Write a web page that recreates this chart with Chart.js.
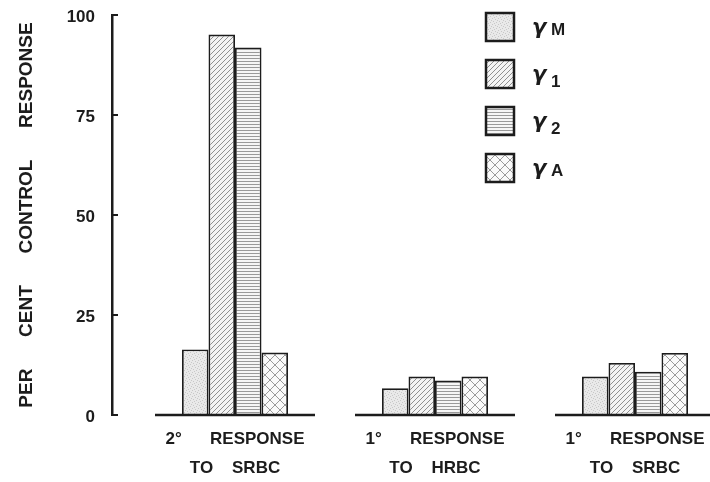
<!DOCTYPE html>
<html><head><meta charset="utf-8">
<script src="https://cdn.jsdelivr.net/npm/chart.js@4.4.1/dist/chart.umd.min.js"></script>
<style>html,body{margin:0;padding:0;background:#fff;overflow:hidden}canvas{display:block}</style>
</head><body><canvas id="c" width="710" height="482"></canvas>
<script>
// ---- data ----
const groupPositions = [1, 2, 3];
const groupLabels = [
  ["2°      RESPONSE", "TO    SRBC"],
  ["1°      RESPONSE", "TO    HRBC"],
  ["1°      RESPONSE", "TO    SRBC"]
];
const seriesLabels = ["γM", "γ1", "γ2", "γA"];
const gammaM = [16.4, 6.7, 9.6];
const gamma1 = [95.1, 9.6, 13.0];
const gamma2 = [91.9, 8.6, 10.8];
const gammaA = [15.6, 9.6, 15.5];
const yTickValues = [0, 25, 50, 75, 100];
const yTitle = "PER      CENT      CONTROL      RESPONSE";

// ---- patterns ----
function makePattern(kind) {
  const c = document.createElement('canvas');
  const g = c.getContext('2d');
  if (kind === 'stipple') {
    c.width = 6; c.height = 6;
    g.fillStyle = '#e9e9e9'; g.fillRect(0, 0, 6, 6);
    g.fillStyle = '#c8c8c8';
    [[0,0],[3,1],[1,3],[4,4],[2,5],[5,2]].forEach(p => g.fillRect(p[0], p[1], 1, 1));
  } else if (kind === 'diag') {
    c.width = 5; c.height = 5;
    g.fillStyle = '#f4f4f4'; g.fillRect(0, 0, 5, 5);
    g.strokeStyle = '#909090'; g.lineWidth = 1;
    g.beginPath(); g.moveTo(-1, 6); g.lineTo(6, -1); g.stroke();
    g.beginPath(); g.moveTo(-1, 1); g.lineTo(1, -1); g.stroke();
    g.beginPath(); g.moveTo(4, 6); g.lineTo(6, 4); g.stroke();
  } else if (kind === 'horiz') {
    c.width = 4; c.height = 3;
    g.fillStyle = '#f6f6f6'; g.fillRect(0, 0, 4, 3);
    g.fillStyle = '#9a9a9a'; g.fillRect(0, 1, 4, 1);
  } else {
    c.width = 10; c.height = 10;
    g.fillStyle = '#fafafa'; g.fillRect(0, 0, 10, 10);
    g.strokeStyle = '#9a9a9a'; g.lineWidth = 1;
    g.beginPath(); g.moveTo(0, 0); g.lineTo(10, 10); g.stroke();
    g.beginPath(); g.moveTo(0, 10); g.lineTo(10, 0); g.stroke();
  }
  return document.getElementById('c').getContext('2d').createPattern(c, 'repeat');
}
const patterns = [makePattern('stipple'), makePattern('diag'), makePattern('horiz'), makePattern('cross')];
const seriesValues = [gammaM, gamma1, gamma2, gammaA];

const INK = '#1c1c1c';

const axisPlugin = {
  id: 'axisMarks',
  afterDatasetsDraw(chart) {
    const { ctx, scales: { x, y } } = chart;
    ctx.save();
    ctx.strokeStyle = INK;
    ctx.lineWidth = 2.5;
    const y0 = y.getPixelForValue(0);
    groupPositions.forEach(p => {
      ctx.beginPath();
      ctx.moveTo(x.getPixelForValue(p - 0.4), y0);
      ctx.lineTo(x.getPixelForValue(p + 0.4), y0);
      ctx.stroke();
    });
    ctx.lineWidth = 2;
    y.ticks.forEach(t => {
      const py = y.getPixelForValue(t.value);
      ctx.beginPath();
      ctx.moveTo(x.left, py);
      ctx.lineTo(x.left + 6, py);
      ctx.stroke();
    });
    ctx.restore();
  }
};

const legendPlugin = {
  id: 'patLegend',
  afterDraw(chart) {
    const ctx = chart.ctx;
    ctx.save();
    chart.data.datasets.forEach((ds, i) => {
      const bx = 486, by = 13 + i * 47, s = 28;
      ctx.fillStyle = ds.backgroundColor;
      ctx.fillRect(bx, by, s, s);
      ctx.lineWidth = 2.5;
      ctx.strokeStyle = INK;
      ctx.strokeRect(bx, by, s, s);
      const lab = ds.label;
      const gch = lab[0], rest = lab.slice(1);
      const sub = /^\d$/.test(rest);
      ctx.fillStyle = INK;
      ctx.textAlign = 'left';
      ctx.textBaseline = 'alphabetic';
      ctx.font = 'italic bold 21px "DejaVu Sans"';
      ctx.fillText(gch, 532, by + 21);
      ctx.font = 'bold 17px "Liberation Sans"';
      ctx.fillText(rest, 551, by + 22 + (sub ? 5 : 0));
    });
    ctx.restore();
  }
};

Chart.defaults.font.family = '"Liberation Sans", Arial, sans-serif';
Chart.defaults.color = INK;

new Chart(document.getElementById('c'), {
  type: 'bar',
  data: {
    datasets: seriesLabels.map((lab, i) => ({
      label: lab,
      data: groupPositions.map((p, j) => ({ x: p, y: seriesValues[i][j] })),
      backgroundColor: patterns[i],
      borderColor: INK,
      borderWidth: 1.8,
      categoryPercentage: 0.53,
      barPercentage: 1.0
    }))
  },
  options: {
    responsive: false,
    animation: false,
    events: [],
    layout: { padding: { top: 15, right: 0, left: 0, bottom: 0 } },
    plugins: { legend: { display: false }, tooltip: { enabled: false } },
    scales: {
      x: {
        type: 'linear',
        offset: false,
        min: 0.385,
        max: 3.375,
        grid: { display: false, drawTicks: false, offset: false },
        border: { display: false },
        afterBuildTicks: s => { s.ticks = groupPositions.map(v => ({ value: v })); },
        afterFit: s => { s.height = 67; s.paddingLeft = 0; s.paddingRight = 0; },
        ticks: {
          autoSkip: false,
          maxRotation: 0,
          padding: 9,
          color: INK,
          font: { size: 17, weight: 'bold', lineHeight: 1.75 },
          callback: (v) => groupLabels[groupPositions.indexOf(v)]
        }
      },
      y: {
        min: 0,
        max: 100,
        afterBuildTicks: s => { s.ticks = yTickValues.map(v => ({ value: v })); },
        afterFit: s => { s.width = 112; s.paddingTop = 0; s.paddingBottom = 0; },
        grid: { display: false, drawTicks: false },
        border: { display: true, color: INK, width: 2.5 },
        ticks: { padding: 17, labelOffset: 2.5, color: INK, font: { size: 17, weight: 'bold' } },
        title: {
          display: true,
          text: yTitle,
          color: INK,
          padding: { top: 15, bottom: 0 },
          font: { size: 19, weight: 'bold' }
        }
      }
    }
  },
  plugins: [axisPlugin, legendPlugin]
});
</script>
</body></html>
